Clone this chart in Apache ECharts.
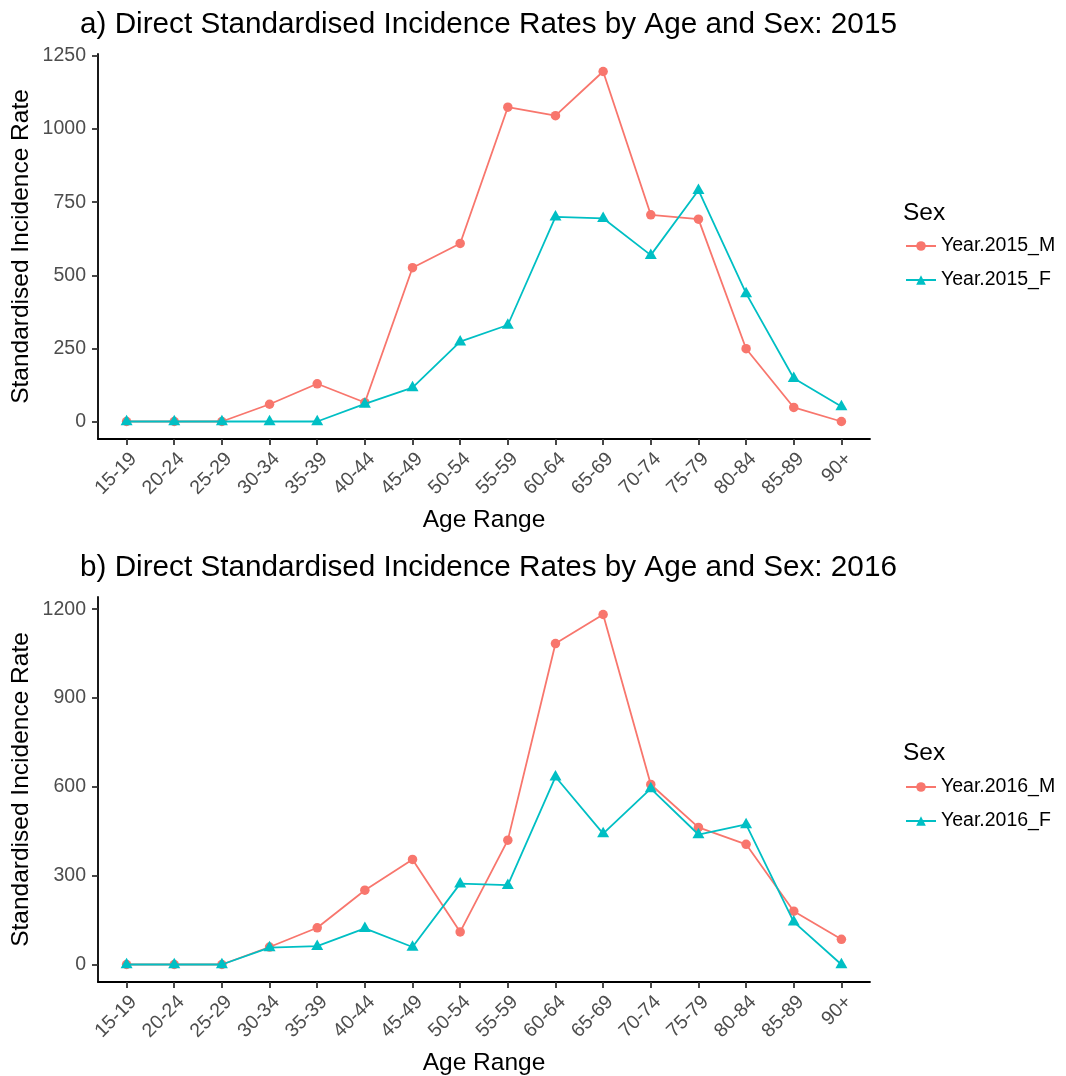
<!DOCTYPE html>
<html>
<head>
<meta charset="utf-8">
<script src="https://cdn.jsdelivr.net/npm/echarts@6/dist/echarts.min.js"></script>
<style>
  html, body { margin: 0; padding: 0; background: #ffffff; }
  #chart { width: 1066px; height: 1076px; }
</style>
</head>
<body>
<div id="chart"></div>
<script>
// Age bands shared by both panels
const ageGroups = ['15-19','20-24','25-29','30-34','35-39','40-44','45-49','50-54',
                   '55-59','60-64','65-69','70-74','75-79','80-84','85-89','90+'];

// 2015 direct standardised incidence rates
const male2015   = [0, 0, 0, 59, 129, 65, 526, 609, 1075, 1046, 1197, 707, 692, 249, 48, 0];
const female2015 = [0, 0, 0, 0, 0, 60, 116, 273, 330, 700, 695, 569, 791, 438, 148, 51];

// 2016 direct standardised incidence rates
const male2016   = [0, 0, 0, 59, 124, 251, 355, 110, 420, 1084, 1182, 608, 463, 406, 180, 85];
const female2016 = [0, 0, 0, 57, 62, 122, 59, 273, 268, 634, 442, 594, 439, 473, 144, 0];

// Y tick labels for each panel
const yTicks2015 = [0, 250, 500, 750, 1000, 1250];
const yTicks2016 = [0, 300, 600, 900, 1200];

const RED = '#F8766D';
const TEAL = '#00BFC4';
const FONT = 'Liberation Sans, Arial, sans-serif';

const positions = ageGroups.map((_, i) => i + 1);
const toPairs = arr => arr.map((v, i) => [i + 1, v]);

// 5% padding on each side of the data range for the value axis
function paddedRange(a, b) {
  const all = a.concat(b);
  const lo = Math.min.apply(null, all), hi = Math.max.apply(null, all);
  const pad = (hi - lo) * 0.05;
  return [lo - pad, hi + pad];
}
const r2015 = paddedRange(male2015, female2015);
const r2016 = paddedRange(male2016, female2016);

function xAxisFor(gridIndex) {
  return {
    type: 'value', gridIndex: gridIndex,
    min: 0.4, max: 16.6,
    name: 'Age Range', nameLocation: 'middle', nameGap: 69, nameMoveOverlap: false,
    nameTextStyle: { fontFamily: FONT, fontSize: 24.5, color: '#000' },
    axisLine: { show: true, onZero: false, lineStyle: { color: '#000', width: 1.8 } },
    axisTick: { show: true, length: 6, customValues: positions, lineStyle: { color: '#333', width: 1.8 } },
    axisLabel: {
      customValues: positions, rotate: 45, margin: 10,
      align: 'right', verticalAlign: 'top',
      fontFamily: FONT, fontSize: 19.5, color: '#4D4D4D',
      formatter: v => ageGroups[Math.round(v) - 1]
    },
    splitLine: { show: false }
  };
}

function yAxisFor(gridIndex, range, ticks) {
  return {
    type: 'value', gridIndex: gridIndex,
    min: range[0], max: range[1],
    name: 'Standardised Incidence Rate', nameLocation: 'middle', nameGap: 64, nameMoveOverlap: false,
    nameTextStyle: { fontFamily: FONT, fontSize: 24.5, color: '#000' },
    axisLine: { show: true, onZero: false, lineStyle: { color: '#000', width: 1.8 } },
    axisTick: { show: true, length: 6, customValues: ticks, lineStyle: { color: '#333', width: 1.8 } },
    axisLabel: {
      customValues: ticks, margin: 12,
      fontFamily: FONT, fontSize: 19.5, color: '#4D4D4D',
      formatter: v => String(Math.round(v))
    },
    splitLine: { show: false }
  };
}

function lineSeries(name, data, color, symbol, gridIndex) {
  const isTri = symbol === 'triangle';
  return {
    name: name, type: 'line',
    xAxisIndex: gridIndex, yAxisIndex: gridIndex,
    data: toPairs(data),
    symbol: symbol,
    symbolSize: isTri ? [12, 10.5] : 9.5,
    symbolOffset: isTri ? [0, -1.5] : [0, 0],
    showSymbol: true,
    lineStyle: { color: color, width: 1.8 },
    itemStyle: { color: color },
    emphasis: { disabled: true },
    animation: false,
    z: isTri ? 3 : 2
  };
}

function legendFor(top, names) {
  return {
    orient: 'vertical', left: 905, top: top, padding: 0,
    data: names,
    itemWidth: 30, itemHeight: 12, itemGap: 12,
    textStyle: { fontFamily: FONT, fontSize: 19.5, color: '#000', lineHeight: 22 },
    selectedMode: false
  };
}

function textTitle(text, left, top, size) {
  return {
    text: text, left: left, top: top, padding: 0,
    textStyle: { fontFamily: FONT, fontSize: size, fontWeight: 'normal', color: '#000' }
  };
}

const chart = echarts.init(document.getElementById('chart'), null, { renderer: 'canvas' });
chart.setOption({
  backgroundColor: '#ffffff',
  animation: false,
  title: [
    textTitle('a) Direct Standardised Incidence Rates by Age and Sex: 2015', 80, 10, 29.7),
    textTitle('b) Direct Standardised Incidence Rates by Age and Sex: 2016', 80, 553, 29.7),
    textTitle('Sex', 903, 201, 24.5),
    textTitle('Sex', 903, 741, 24.5)
  ],
  legend: [
    legendFor(235, ['Year.2015_M', 'Year.2015_F']),
    legendFor(776, ['Year.2016_M', 'Year.2016_F'])
  ],
  grid: [
    { left: 98, top: 54, width: 772, height: 385, containLabel: false, outerBoundsMode: 'none' },
    { left: 98, top: 597, width: 772, height: 385, containLabel: false, outerBoundsMode: 'none' }
  ],
  xAxis: [xAxisFor(0), xAxisFor(1)],
  yAxis: [yAxisFor(0, r2015, yTicks2015), yAxisFor(1, r2016, yTicks2016)],
  series: [
    lineSeries('Year.2015_M', male2015, RED, 'circle', 0),
    lineSeries('Year.2015_F', female2015, TEAL, 'triangle', 0),
    lineSeries('Year.2016_M', male2016, RED, 'circle', 1),
    lineSeries('Year.2016_F', female2016, TEAL, 'triangle', 1)
  ]
});
</script>
</body>
</html>
